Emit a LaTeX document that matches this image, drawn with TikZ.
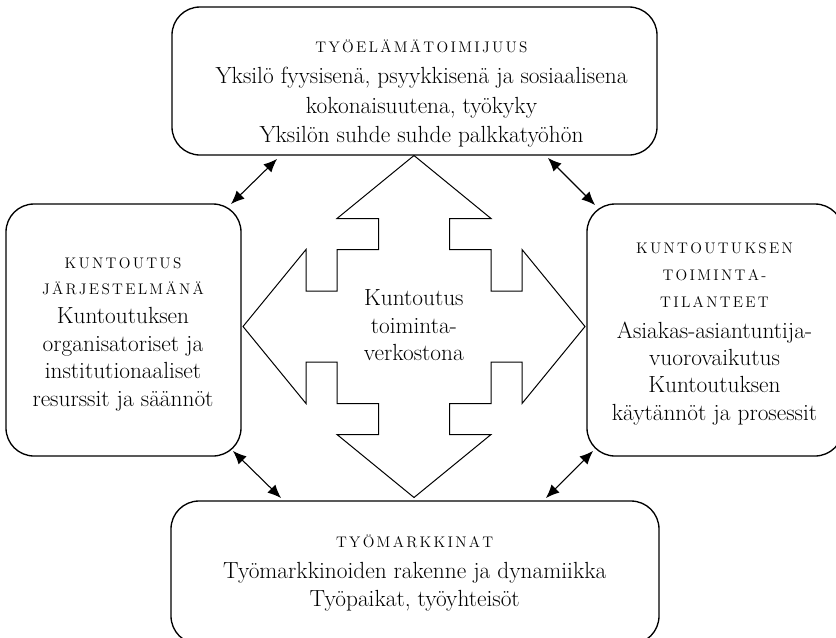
\documentclass[tikz,border=0pt]{standalone}
\usetikzlibrary{arrows.meta,calc}

% letter-spaced capitals for the headings
\def\spaced#1{\spacedfirst#1\relax}
\def\spacedfirst#1{#1\spacednext}
\def\spacednext#1{\ifx#1\relax\else\kern.15em\relax#1\expandafter\spacednext\fi}
\newcommand\capsline[1]{{\fontsize{11.5}{13}\selectfont\spaced{#1}}}

\tikzset{
  frame/.style={draw, line width=1pt, rounded corners=21pt, outer sep=0pt, inner sep=0pt},
  boxtext/.style={align=center, inner sep=0pt, outer sep=0pt, anchor=base},
  link/.style={{Latex[length=10pt,width=8.5pt]}-{Latex[length=10pt,width=8.5pt]}, line width=0.8pt},
  hubshape/.style={draw, line width=0.75pt, line join=miter},
}

\begin{document}
\begin{tikzpicture}[x=0.75pt, y=-0.75pt]
  \useasboundingbox (0,0) rectangle (836,637);
  \clip (0,0) rectangle (836,637);

  % the four framed areas
  \node[frame, minimum width=363.75pt, minimum height=111pt] (top) at (414.5,81) {};
  \node[frame, minimum width=176.25pt, minimum height=189pt] (left) at (123.5,330) {};
  \node[frame, minimum width=192pt, minimum height=189pt] (right) at (715,330) {};
  \node[frame, minimum width=366pt, minimum height=107.25pt] (bottom) at (415,572.5) {};

  % their texts (each placed by the baseline of its last line)
  \node[boxtext, font=\fontsize{17.5}{22}\selectfont] (toptext) at (421.5,142.5)
    {\capsline{TYÖELÄMÄTOIMIJUUS}\\[1.25pt]
     Yksilö fyysisenä, psyykkisenä ja sosiaalisena\\
     kokonaisuutena, työkyky\\
     Yksilön suhde suhde palkkatyöhön};
  \node[boxtext, font=\fontsize{17.5}{20.8}\selectfont] (lefttext) at (123,406.7)
    {\capsline{KUNTOUTUS}\\[-1.3pt]
     \capsline{JÄRJESTELMÄNÄ}\\[0.95pt]
     Kuntoutuksen\\
     organisatoriset ja\\
     institutionaaliset\\
     resurssit ja säännöt};
  \node[boxtext, font=\fontsize{17.5}{20.3}\selectfont] (righttext) at (714.5,420)
    {\capsline{KUNTOUTUKSEN}\\
     \capsline{TOIMINTA-}\\
     \capsline{TILANTEET}\\[2.95pt]
     Asiakas-asiantuntija-\\
     vuorovaikutus\\
     Kuntoutuksen\\
     käytännöt ja prosessit};
  \node[boxtext, font=\fontsize{17.5}{21.3}\selectfont] (bottomtext) at (414.7,606.7)
    {\capsline{TYÖMARKKINAT}\\[1.95pt]
     Työmarkkinoiden rakenne ja dynamiikka\\
     Työpaikat, työyhteisöt};

  % four-headed arrow in the middle
  \coordinate (hub) at (414,326.5);
  \begin{scope}[shift={(hub)}]
    \def\s{35.5}\def\h{77}\def\d{108}\def\t{171}
    \draw[hubshape]
      (0,-\t) -- (-\h,-\d) -- (-\s,-\d) -- (-\s,-\h) -- (-\h,-\h) -- (-\h,-\s)
      -- (-\d,-\s) -- (-\d,-\h) -- (-\t,0)
      -- (-\d,\h) -- (-\d,\s) -- (-\h,\s) -- (-\h,\h) -- (-\s,\h) -- (-\s,\d)
      -- (-\h,\d) -- (0,\t)
      -- (\h,\d) -- (\s,\d) -- (\s,\h) -- (\h,\h) -- (\h,\s) -- (\d,\s)
      -- (\d,\h) -- (\t,0)
      -- (\d,-\h) -- (\d,-\s) -- (\h,-\s) -- (\h,-\h) -- (\s,-\h) -- (\s,-\d)
      -- (\h,-\d) -- cycle;
  \end{scope}
  \node[boxtext, font=\fontsize{17.5}{20.6}\selectfont] (hubtext) at (413.8,360.7)
    {Kuntoutus\\ toiminta-\\ verkostona};

  % connector ends
  \coordinate (tl-a) at ($(left.north east)+(-10,0)$);
  \coordinate (tl-b) at ($(top.south west)+(105,4)$);
  \coordinate (tr-a) at ($(top.south east)+(-109,3)$);
  \coordinate (tr-b) at ($(right.north west)+(8,1)$);
  \coordinate (bl-a) at ($(left.south east)+(-8,-5)$);
  \coordinate (bl-b) at ($(bottom.north west)+(110,-3)$);
  \coordinate (br-a) at ($(bottom.north east)+(-113,-3)$);
  \coordinate (br-b) at ($(right.south west)+(6,-5)$);

  \draw[link] (tl-a) -- (tl-b);
  \draw[link] (tr-a) -- (tr-b);
  \draw[link] (bl-a) -- (bl-b);
  \draw[link] (br-a) -- (br-b);
\end{tikzpicture}
\end{document}
